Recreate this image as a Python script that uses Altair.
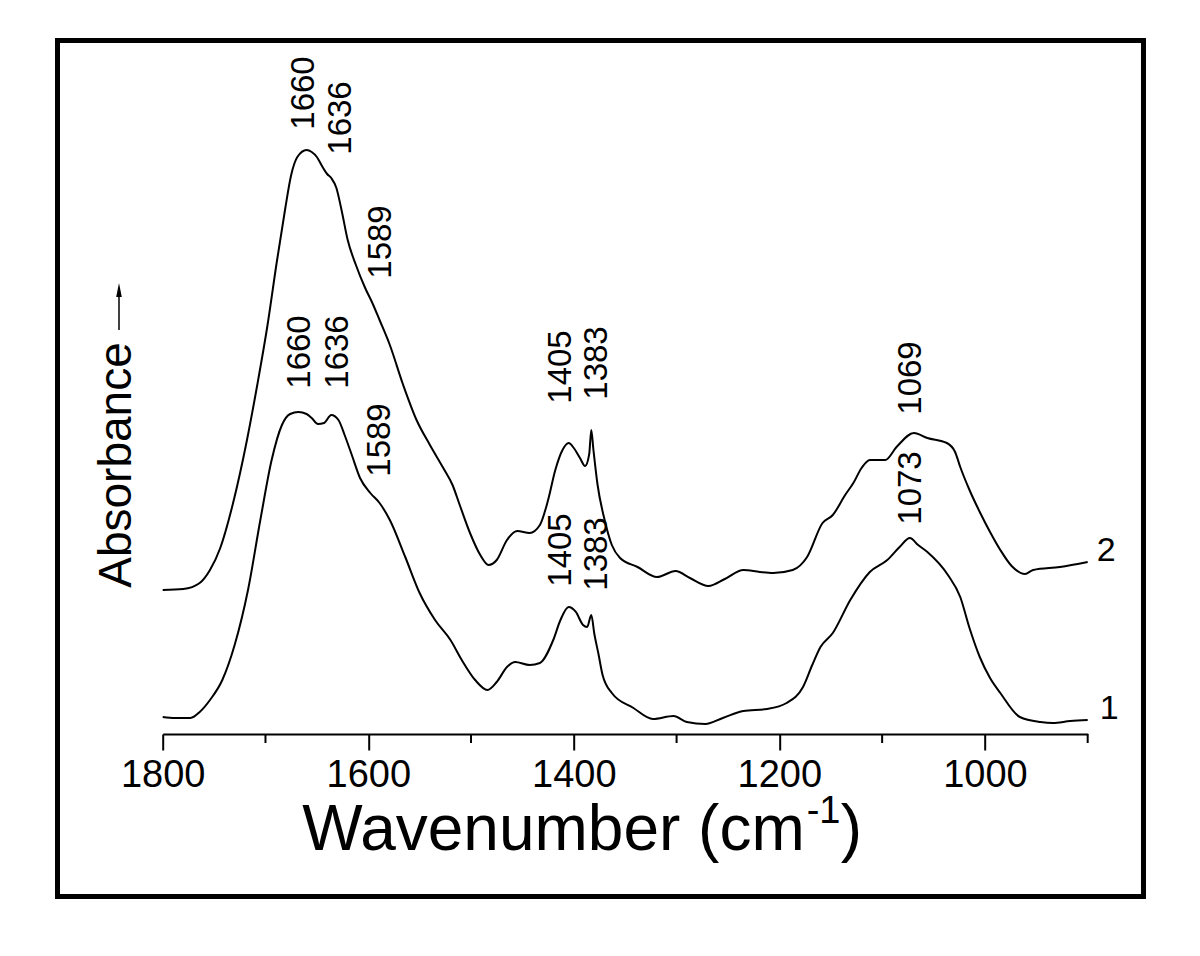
import altair as alt
import pandas as pd

# ---- spectrum 2 (upper trace) ----
wn2 = [1800, 1780, 1764, 1754, 1744, 1732, 1718, 1708, 1698, 1689, 1681, 1675, 1669, 1660,
       1655, 1650, 1645, 1640, 1636, 1631, 1626, 1620, 1612, 1603, 1596, 1589, 1579, 1566,
       1553, 1540, 1527, 1518, 1511, 1501, 1491, 1483, 1475, 1465, 1455, 1443, 1433, 1425,
       1418, 1411, 1405, 1400, 1394, 1389, 1385, 1383, 1381, 1377, 1370, 1363, 1355, 1338,
       1319, 1301, 1287, 1269, 1253, 1235, 1219, 1206, 1187, 1173, 1158, 1148, 1136, 1128,
       1120, 1112, 1104, 1097, 1086, 1069, 1056, 1037, 1029, 1024, 1015, 1005, 995, 985,
       974, 961, 953, 927, 900]
ab2 = [0.144, 0.145, 0.151, 0.164, 0.186, 0.229, 0.294, 0.349, 0.409, 0.472, 0.524, 0.559, 0.577, 0.584,
       0.582, 0.577, 0.568, 0.560, 0.556, 0.546, 0.524, 0.494, 0.469, 0.446, 0.431, 0.414, 0.389, 0.349,
       0.314, 0.289, 0.266, 0.249, 0.229, 0.201, 0.179, 0.169, 0.174, 0.194, 0.203, 0.201, 0.209, 0.234,
       0.264, 0.284, 0.291, 0.286, 0.276, 0.268, 0.280, 0.304, 0.285, 0.250, 0.214, 0.189, 0.176, 0.167,
       0.157, 0.163, 0.156, 0.148, 0.155, 0.164, 0.162, 0.161, 0.164, 0.177, 0.211, 0.219, 0.239, 0.251,
       0.266, 0.274, 0.274, 0.274, 0.287, 0.301, 0.296, 0.291, 0.282, 0.267, 0.244, 0.222, 0.202, 0.184,
       0.168, 0.160, 0.164, 0.167, 0.172]

# ---- spectrum 1 (lower trace) ----
wn1 = [1800, 1788, 1773, 1764, 1754, 1742, 1730, 1717, 1705, 1694, 1684, 1676, 1668, 1660,
       1655, 1649, 1643, 1636, 1629, 1623, 1616, 1608, 1598, 1589, 1579, 1564, 1550, 1535,
       1520, 1509, 1496, 1484, 1475, 1465, 1457, 1443, 1433, 1420, 1413, 1405, 1398, 1391,
       1387, 1383, 1380, 1376, 1372, 1363, 1342, 1323, 1303, 1290, 1272, 1255, 1235, 1212,
       1193, 1177, 1168, 1160, 1148, 1131, 1112, 1095, 1083, 1073, 1065, 1056, 1036, 1024,
       1015, 1005, 995, 985, 966, 946, 934, 917, 900]
ab1 = [0.017, 0.016, 0.016, 0.022, 0.034, 0.054, 0.089, 0.144, 0.214, 0.274, 0.309, 0.320, 0.322, 0.320,
       0.316, 0.310, 0.311, 0.319, 0.314, 0.299, 0.279, 0.256, 0.241, 0.231, 0.214, 0.177, 0.141, 0.114,
       0.094, 0.074, 0.054, 0.044, 0.052, 0.067, 0.072, 0.069, 0.071, 0.094, 0.114, 0.127, 0.122, 0.109,
       0.107, 0.119, 0.100, 0.080, 0.059, 0.041, 0.026, 0.015, 0.018, 0.012, 0.010, 0.016, 0.023, 0.025,
       0.031, 0.047, 0.069, 0.087, 0.101, 0.134, 0.162, 0.174, 0.187, 0.196, 0.189, 0.182, 0.159, 0.137,
       0.106, 0.077, 0.056, 0.041, 0.017, 0.012, 0.011, 0.013, 0.014]

# ---- peak annotations ----
peak_text = ["1660", "1636", "1589", "1405", "1383", "1069",
             "1660", "1636", "1589", "1405", "1383", "1073"]
peak_x = [1662.5, 1626.5, 1587.6, 1412.5, 1377.4, 1071.9,
          1666.4, 1629.4, 1588.6, 1412.5, 1377.4, 1071.9]
peak_y = [0.641, 0.616, 0.492, 0.367, 0.371, 0.356,
          0.382, 0.382, 0.294, 0.184, 0.180, 0.246]

# ---- curve numbers ----
curve_names = ["2", "1"]
curve_name_x = [882, 879]
curve_name_y = [0.183, 0.025]

major_ticks = [1800, 1600, 1400, 1200, 1000]
minor_ticks = [1700, 1500, 1300, 1100, 900]

FONT = "Liberation Sans"
W, H = 925, 650

spec = pd.concat([
    pd.DataFrame({"wn": wn2, "A": ab2, "curve": "2"}),
    pd.DataFrame({"wn": wn1, "A": ab1, "curve": "1"}),
])
ann = pd.DataFrame({"t": peak_text, "wn": peak_x, "A": peak_y})
names = pd.DataFrame({"t": curve_names, "wn": curve_name_x, "A": curve_name_y})
minor = pd.DataFrame({"wn": minor_ticks})
one = pd.DataFrame({"k": [0]})

xscale = alt.Scale(domain=[900, 1800], reverse=True, nice=False, zero=False)
yscale = alt.Scale(domain=[0, 0.65], nice=False, zero=False)

lines = alt.Chart(spec).mark_line(color="black", strokeWidth=2, interpolate="monotone").encode(
    x=alt.X("wn:Q", scale=xscale, axis=alt.Axis(
        values=major_ticks, format="d", title=None, tickSize=16, tickWidth=2,
        domainWidth=2, domainColor="black", tickColor="black", labelColor="black",
        labelFont=FONT, labelFontSize=38, labelPadding=7, labelFlush=False,
        labelOverlap=False, grid=False)),
    y=alt.Y("A:Q", scale=yscale, axis=None),
    detail="curve:N",
)

minor_rules = alt.Chart(minor).mark_rule(color="black", strokeWidth=2).encode(
    x=alt.X("wn:Q", scale=xscale),
    y=alt.value(H), y2=alt.value(H + 9),
)

ann_text = alt.Chart(ann).mark_text(
    angle=270, align="center", baseline="middle", font=FONT, fontSize=33, color="black"
).encode(x=alt.X("wn:Q", scale=xscale), y=alt.Y("A:Q", scale=yscale), text="t:N")

name_text = alt.Chart(names).mark_text(
    align="center", baseline="middle", font=FONT, fontSize=34, color="black"
).encode(x=alt.X("wn:Q", scale=xscale), y=alt.Y("A:Q", scale=yscale), text="t:N")

frame = alt.Chart(one).mark_rect(fillOpacity=0, stroke="black", strokeWidth=5).encode(
    x=alt.value(-105.2), x2=alt.value(980.8), y=alt.value(-43.5), y2=alt.value(812.5)
)

title_main = alt.Chart(one).mark_text(
    align="right", baseline="alphabetic", font=FONT, fontSize=64, color="black"
).encode(x=alt.value(642), y=alt.value(766), text=alt.value("Wavenumber (cm"))
title_sup = alt.Chart(one).mark_text(
    align="left", baseline="alphabetic", font=FONT, fontSize=38, color="black"
).encode(x=alt.value(644), y=alt.value(739), text=alt.value("-1"))
title_close = alt.Chart(one).mark_text(
    align="left", baseline="alphabetic", font=FONT, fontSize=64, color="black"
).encode(x=alt.value(678), y=alt.value(766), text=alt.value(")"))

ylab = alt.Chart(one).mark_text(
    angle=270, align="center", baseline="middle", font=FONT, fontSize=46, color="black"
).encode(x=alt.value(-45.7), y=alt.value(381), text=alt.value("Absorbance"))

arrow_shaft = alt.Chart(one).mark_rule(color="black", strokeWidth=1.5).encode(
    x=alt.value(-43.7), y=alt.value(206), y2=alt.value(246)
)
arrow_head = alt.Chart(one).mark_point(
    shape="M0,-1L0.4,1L-0.4,1Z", filled=True, color="black", opacity=1, size=196
).encode(x=alt.value(-43.7), y=alt.value(206))

chart = alt.layer(
    lines, minor_rules, ann_text, name_text, frame,
    title_main, title_sup, title_close, ylab, arrow_shaft, arrow_head
).properties(
    width=W, height=H,
    background="white",
    autosize=alt.AutoSizeParams(type="none"),
    padding={"left": 154.7, "top": 76, "right": 100, "bottom": 204},
).configure_view(stroke="transparent", strokeWidth=0)

chart.save("out.html", embed_options={"renderer": "svg", "actions": False})
